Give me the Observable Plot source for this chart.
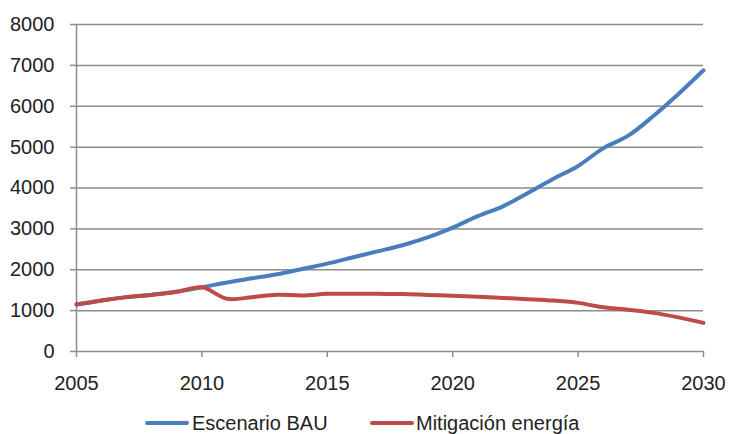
<!DOCTYPE html>
<html><head><meta charset="utf-8">
<script src="https://cdn.jsdelivr.net/npm/d3@7"></script>
<script src="https://cdn.jsdelivr.net/npm/@observablehq/plot@0.6"></script>
<style>
body{margin:0;background:#fff;font-family:"Liberation Sans",Arial,sans-serif;color:#222;}
#wrap{width:729px;height:434px;overflow:hidden;position:relative;}
#legend{position:absolute;left:0;top:408px;width:729px;height:26px;font-size:20px;}
.sw{position:absolute;width:44px;height:4px;border-radius:2px;top:13px;}
.tx{position:absolute;top:3px;line-height:24px;white-space:nowrap;}
</style></head><body><div id="wrap"><div id="chart"></div><div id="legend"></div></div>
<script>
const years = [2005,2006,2007,2008,2009,2010,2011,2012,2013,2014,2015,2016,2017,2018,2019,2020,2021,2022,2023,2024,2025,2026,2027,2028,2029,2030];
const bau = [1150,1250,1330,1390,1460,1570,1690,1790,1890,2020,2150,2300,2450,2600,2790,3030,3310,3550,3880,4220,4540,4970,5280,5760,6300,6880];
const mitigacion = [1150,1250,1330,1385,1460,1570,1290,1330,1390,1370,1410,1415,1410,1405,1385,1365,1340,1310,1280,1245,1190,1080,1020,945,835,700];
const seriesNames = ["Escenario BAU","Mitigación energía"];
const seriesColors = ["#4a7ebb","#be4b48"];
const yTicks = [0,1000,2000,3000,4000,5000,6000,7000,8000];
const xTicks = [2005,2010,2015,2020,2025,2030];

const data = [];
years.forEach((y,i)=>{
  data.push({year:y, value:bau[i], series:seriesNames[0]});
});
years.forEach((y,i)=>{
  data.push({year:y, value:mitigacion[i], series:seriesNames[1]});
});

const grid = "#8c8c8c";
const chart = Plot.plot({
  width:729, height:400,
  marginTop:24, marginLeft:76, marginRight:26, marginBottom:49,
  style:{fontFamily:'"Liberation Sans",Arial,sans-serif', fontSize:"20px", color:"#222", background:"#fff", overflow:"visible"},
  x:{domain:[2005,2030], label:null},
  y:{domain:[0,8000], label:null},
  color:{domain:seriesNames, range:seriesColors},
  marks:[
    Plot.gridY(yTicks,{stroke:grid, strokeOpacity:1, strokeWidth:1.5}),
    Plot.axisY(yTicks,{tickSize:6, tickPadding:16, label:null, stroke:grid, strokeWidth:1.5, tickFormat:d=>String(d)}),
    Plot.axisX(xTicks,{tickSize:6, tickPadding:18, label:null, stroke:grid, strokeWidth:1.5, tickFormat:d=>String(d)}),
    Plot.ruleX([2005],{stroke:grid, strokeWidth:1.5}),
    Plot.line(data,{x:"year", y:"value", stroke:"series", curve:"catmull-rom", strokeWidth:4, strokeLinecap:"round", strokeLinejoin:"round"})
  ]
});
document.getElementById("chart").appendChild(chart);

const legend = document.getElementById("legend");
const swX = [145, 370], txX = [192, 416];
seriesNames.forEach((n,i)=>{
  const sw = document.createElement("div");
  sw.className="sw"; sw.style.background=seriesColors[i]; sw.style.left=swX[i]+"px";
  const tx = document.createElement("span");
  tx.className="tx"; tx.style.left=txX[i]+"px";
  tx.textContent=n;
  legend.appendChild(sw); legend.appendChild(tx);
});
</script></body></html>
